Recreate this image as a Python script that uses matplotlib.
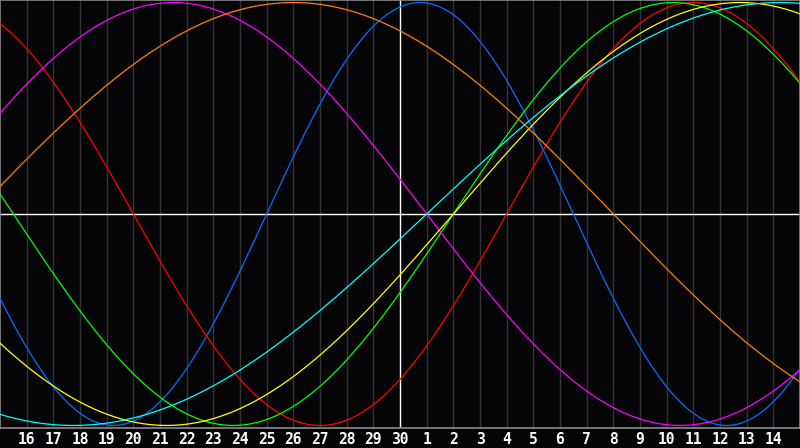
import numpy as np
import matplotlib
matplotlib.use('Agg')
from matplotlib import pyplot as plt

# cycle lengths (days) and day-in-cycle at the left edge
periods = [23, 28, 33, 38, 43, 48, 53]
phases = [13, 9, 16, 3, 26, 1, 37]
colors = ['#0070ff', '#ff0000', '#00ff00', '#ff00ff', '#ffff00', '#ff8000', '#00ffff']

day_labels = list(range(16, 31)) + list(range(1, 15))
today_pos = 15   # position of day 30 (white line)

bg = '#050508'
fig = plt.figure(figsize=(8, 4.48), dpi=100, facecolor=bg)
ax = fig.add_axes([0, 20/448, 1, 428/448], facecolor=bg)

t = np.linspace(0, 30, 1200)
for p, ph, c in zip(periods, phases, colors):
    ax.plot(t, np.sin(2*np.pi*(ph + t)/p), color=c, lw=0.9, zorder=3)

pos = np.arange(1, len(day_labels) + 1)
for x in pos:
    if x == today_pos:
        ax.axvline(x, color='white', lw=1, zorder=2)
    else:
        ax.axvline(x, color='#333333', lw=1, zorder=1)
ax.axhline(0, color='white', lw=1, zorder=2)

ax.set_xlim(0, 30)
ax.set_ylim(-1.012, 1.012)
ax.set_yticks([])
ax.set_xticks(pos)
ax.set_xticklabels([str(d) for d in day_labels], color='white',
                   fontsize=10.5, fontweight='bold', family='DejaVu Sans Mono')
ax.tick_params(axis='x', length=0, pad=3)
for s in ax.spines.values():
    s.set_color('#8a8a8a')
    s.set_linewidth(1.2)

fig.savefig('out.png', dpi=100, facecolor=bg)
